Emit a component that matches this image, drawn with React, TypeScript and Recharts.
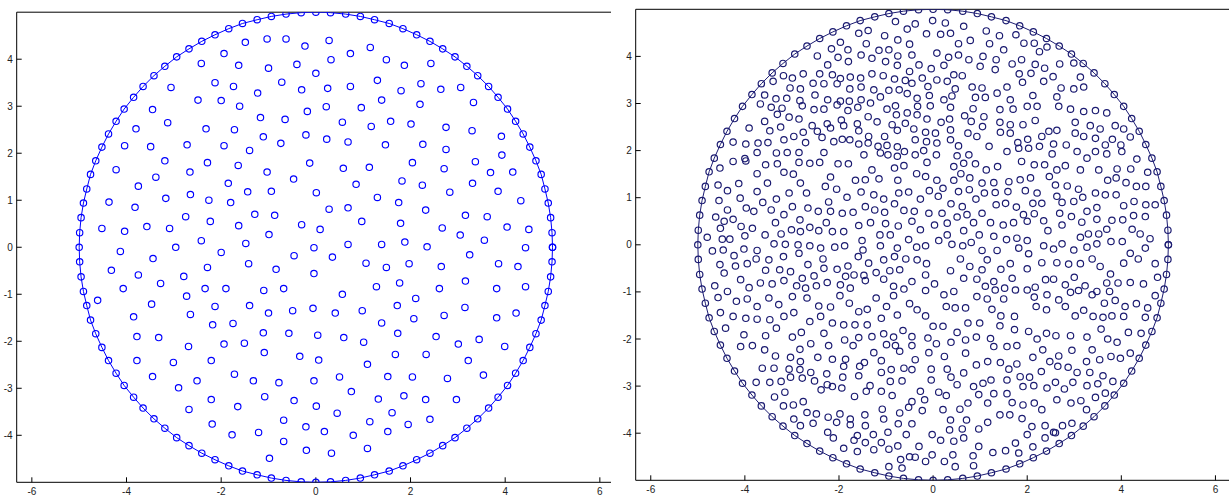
import React from "react";
import { ScatterChart, Scatter, XAxis, YAxis } from "recharts";

// Shared tick values
const xTicks = [-6, -4, -2, 0, 2, 4, 6];
const yTicks = [-4, -3, -2, -1, 0, 1, 2, 3, 4];

// Boundary nodes (100 nodes on the outer ring; last closes the ring)
const boundaryPts: number[][] = [
  [5,0],[4.99,0.31],[4.96,0.63],[4.91,0.94],[4.84,1.24],[4.76,1.55],[4.65,1.84],[4.52,2.13],[4.38,2.41],[4.22,2.68],[4.05,2.94],[3.85,3.19],[3.65,3.42],[3.42,3.65],[3.19,3.85],[2.94,4.05],[2.68,4.22],[2.41,4.38],[2.13,4.52],[1.84,4.65],[1.55,4.76],[1.24,4.84],[0.94,4.91],[0.63,4.96],[0.31,4.99],[0,5],
  [-0.31,4.99],[-0.63,4.96],[-0.94,4.91],[-1.24,4.84],[-1.55,4.76],[-1.84,4.65],[-2.13,4.52],[-2.41,4.38],[-2.68,4.22],[-2.94,4.05],[-3.19,3.85],[-3.42,3.65],[-3.65,3.42],[-3.85,3.19],[-4.05,2.94],[-4.22,2.68],[-4.38,2.41],[-4.52,2.13],[-4.65,1.84],[-4.76,1.55],[-4.84,1.24],[-4.91,0.94],[-4.96,0.63],[-4.99,0.31],[-5,0],
  [-4.99,-0.31],[-4.96,-0.63],[-4.91,-0.94],[-4.84,-1.24],[-4.76,-1.55],[-4.65,-1.84],[-4.52,-2.13],[-4.38,-2.41],[-4.22,-2.68],[-4.05,-2.94],[-3.85,-3.19],[-3.65,-3.42],[-3.42,-3.65],[-3.19,-3.85],[-2.94,-4.05],[-2.68,-4.22],[-2.41,-4.38],[-2.13,-4.52],[-1.84,-4.65],[-1.55,-4.76],[-1.24,-4.84],[-0.94,-4.91],[-0.63,-4.96],[-0.31,-4.99],[0,-5],
  [0.31,-4.99],[0.63,-4.96],[0.94,-4.91],[1.24,-4.84],[1.55,-4.76],[1.84,-4.65],[2.13,-4.52],[2.41,-4.38],[2.68,-4.22],[2.94,-4.05],[3.19,-3.85],[3.42,-3.65],[3.65,-3.42],[3.85,-3.19],[4.05,-2.94],[4.22,-2.68],[4.38,-2.41],[4.52,-2.13],[4.65,-1.84],[4.76,-1.55],[4.84,-1.24],[4.91,-0.94],[4.96,-0.63],[4.99,-0.31],[5,0]
];

// Left panel interior nodes
const leftInterior: number[][] = [
  [-1.49,4.36],[-1.03,4.43],[-0.63,4.43],[-1.94,4.12],[-2.42,3.91],[-1.63,3.87],[-1.00,3.81],[-0.40,3.89],[-2.13,3.50],[-1.74,3.42],[-0.72,3.51],[-3.06,3.40],[-1.23,3.28],[-2.49,3.13],[-2.00,3.12],[-1.61,3.00],[-3.45,2.93],[-1.17,2.76],[-0.65,2.72],[-3.80,2.52],[-3.13,2.65],[-2.32,2.52],[-1.72,2.50],[-1.11,2.35],[-0.74,2.21],[-4.04,2.16],[-3.49,2.14],[-2.72,2.18],[-1.94,2.16],[-1.40,2.06],
  [0.28,4.40],[-0.23,4.28],[1.15,4.25],[0.32,3.99],[0.73,4.12],[1.49,3.99],[1.87,3.87],[2.43,3.91],[0.00,3.70],[1.30,3.55],[0.25,3.38],[0.73,3.42],[1.80,3.33],[2.22,3.48],[2.64,3.36],[3.06,3.40],[-0.30,3.35],[0.22,2.99],[-0.18,2.89],[0.96,2.97],[1.39,3.13],[2.20,3.04],[3.33,3.08],[0.56,2.66],[1.17,2.57],[1.58,2.68],[2.01,2.62],[2.75,2.55],[3.30,2.48],[3.92,2.36],[-0.21,2.39],[0.23,2.30],[0.68,2.24],[1.47,2.18],[2.26,2.19],[2.75,2.08],[3.93,1.96],
  [-3.19,1.84],[-2.29,1.80],[-1.64,1.74],[-4.22,1.65],[-2.66,1.60],[-3.38,1.49],[-1.03,1.60],[-0.47,1.45],[-1.85,1.36],[-3.75,1.30],[-1.44,1.18],[-0.94,1.19],[-4.37,0.96],[-3.82,0.85],[-3.17,1.04],[-2.65,1.12],[-2.26,1.00],[-1.80,0.95],[-1.29,0.70],[-0.87,0.68],[-2.75,0.65],[-2.23,0.55],[-4.52,0.40],[-4.04,0.34],[-3.57,0.44],[-3.09,0.40],[-1.63,0.46],[-0.99,0.27],[-2.42,0.14],[-1.48,0.08],[-2.96,0.00],[-4.13,-0.09],[-2.00,-0.11],[-0.46,-0.18],[-3.44,-0.24],[-4.32,-0.49],[-3.75,-0.59],[-2.29,-0.43],[-1.42,-0.35],[-0.84,-0.47],[-2.79,-0.62],[-3.28,-0.77],[-4.07,-0.88],[-2.34,-0.88],[-1.90,-0.88],[-1.10,-0.92],[-0.68,-0.88],[-4.61,-1.13],[-3.47,-1.21],[-2.73,-1.04],[-2.13,-1.26],[-1.40,-1.24],[-1.00,-1.40],[-0.49,-1.35],[-3.85,-1.48],[-2.65,-1.43],
  [-0.13,1.79],[0.58,1.68],[1.13,1.70],[2.04,1.80],[2.71,1.67],[3.37,1.82],[3.69,1.59],[4.16,1.60],[0.85,1.34],[1.82,1.41],[2.25,1.32],[3.31,1.36],[2.83,1.17],[3.85,1.19],[0.01,1.16],[1.30,1.06],[1.75,0.95],[4.33,0.99],[0.28,0.81],[0.68,0.84],[2.32,0.79],[3.16,0.68],[3.62,0.65],[-0.30,0.48],[0.09,0.38],[0.97,0.55],[1.79,0.51],[2.67,0.41],[3.05,0.26],[4.04,0.43],[4.50,0.38],[3.56,0.15],[-0.04,-0.01],[0.68,0.06],[1.39,0.06],[1.88,0.11],[2.35,0.01],[3.25,-0.16],[4.43,-0.01],[0.35,-0.21],[1.06,-0.34],[1.49,-0.43],[1.97,-0.35],[2.65,-0.41],[3.86,-0.35],[4.27,-0.41],[-0.04,-0.56],[1.28,-0.84],[1.77,-0.76],[2.61,-0.88],[3.16,-0.72],[3.82,-0.88],[4.43,-0.84],[0.56,-1.00],[2.11,-1.09],[1.72,-1.24],[-0.06,-1.30],[0.41,-1.40],[0.98,-1.35],[3.15,-1.28],[2.71,-1.45],[3.82,-1.50],[4.23,-1.40],[2.07,-1.52],
  [-2.18,-1.65],[-1.75,-1.62],[-1.11,-1.82],[-0.57,-1.83],[-3.78,-1.90],[-3.32,-1.92],[-2.69,-2.11],[-1.94,-2.06],[-1.51,-2.04],[-1.09,-2.24],[-0.34,-2.32],[-3.78,-2.41],[-3.01,-2.45],[-2.21,-2.41],[-3.45,-2.75],[-2.51,-2.84],[-1.72,-2.70],[-1.32,-2.84],[-0.78,-2.88],[-2.90,-2.99],[-2.21,-3.24],[-1.08,-3.18],[-0.46,-3.26],[-2.68,-3.45],[-1.65,-3.39],[-0.68,-3.68],[-2.19,-3.76],[-1.77,-3.99],[-1.21,-3.94],[-0.68,-4.13],[-0.98,-4.49],
  [1.39,-1.61],[0.04,-1.87],[0.59,-1.92],[1.01,-2.02],[1.73,-1.83],[2.54,-1.90],[3.01,-2.06],[3.45,-1.96],[3.99,-2.11],[0.06,-2.40],[1.09,-2.49],[1.68,-2.28],[2.33,-2.28],[3.22,-2.41],[-0.04,-2.84],[0.50,-2.76],[1.52,-2.75],[2.04,-2.76],[2.78,-2.79],[3.54,-2.72],[0.75,-3.07],[1.32,-3.23],[1.86,-3.16],[2.32,-3.24],[2.97,-3.24],[0.01,-3.38],[0.45,-3.53],[1.61,-3.52],[1.14,-3.71],[1.95,-3.77],[2.41,-3.66],[-0.21,-3.82],[0.18,-3.92],[0.79,-4.00],[1.52,-3.92],[-0.20,-4.32],[0.33,-4.38],[1.09,-4.28]
];

// Right panel interior nodes
const rightInterior: number[][] = [
  // upper-left
  [-0.80,4.74],[-0.55,4.58],[-1.58,4.49],[-1.38,4.55],[-1.03,4.44],[-0.75,4.35],[-0.50,4.26],[-1.97,4.30],[-2.16,4.16],[-1.81,4.14],[-1.42,4.27],[-1.15,4.13],[-0.94,4.14],[-0.75,4.01],[-2.46,4.01],[-2.24,3.82],[-2.02,3.98],[-1.80,3.89],[-1.53,4.03],[-1.30,3.96],[-1.01,3.89],[-0.76,3.81],[-0.50,3.68],[-2.76,3.63],[-2.99,3.54],[-2.41,3.63],[-2.14,3.61],[-1.97,3.53],[-1.76,3.56],[-1.54,3.54],[-1.30,3.63],[-1.06,3.59],[-0.82,3.52],[-0.59,3.49],[-3.18,3.59],[-3.40,3.47],[-3.04,3.33],[-2.82,3.31],[-2.55,3.43],[-2.32,3.42],[-2.04,3.42],[-1.77,3.31],[-1.53,3.35],[-1.26,3.29],[-0.94,3.28],[-0.72,3.29],
  [-3.58,3.18],[-3.34,3.10],[-3.11,3.11],[-2.83,3.06],[-2.51,3.18],[-2.24,3.08],[-1.97,3.05],[-1.78,3.05],[-1.53,3.08],[-1.33,3.01],[-1.12,3.14],[-0.98,2.88],[-0.80,2.95],[-0.55,3.21],[-3.67,2.99],[-3.44,2.92],[-3.21,2.90],[-2.78,2.95],[-2.53,2.87],[-2.32,2.88],[-2.04,2.97],[-1.81,2.85],[-1.60,2.92],[-1.38,2.72],[-1.19,2.61],[-0.78,2.76],[-0.55,2.80],[-3.58,2.62],[-3.31,2.77],[-3.06,2.71],[-2.85,2.67],[-2.57,2.53],[-2.25,2.57],[-1.95,2.65],[-1.61,2.57],[-0.87,2.55],[-0.59,2.58],
  [-3.91,2.48],[-3.47,2.42],[-3.24,2.50],[-2.96,2.30],[-2.76,2.39],[-2.46,2.41],[-2.18,2.48],[-1.90,2.53],[-1.58,2.42],[-1.37,2.30],[-1.03,2.30],[-0.76,2.43],[-4.25,2.18],[-3.98,2.14],[-3.72,2.16],[-3.51,2.17],[-3.17,2.23],[-2.71,2.17],[-2.36,2.28],[-2.11,2.19],[-1.93,2.24],[-1.77,2.23],[-1.58,2.14],[-1.38,2.16],[-1.17,2.09],[-0.98,2.11],[-0.76,2.08],[-0.61,1.98],[-4.00,1.83],[-3.74,1.96],[-3.33,1.95],[-3.10,1.96],[-2.85,1.96],[-2.32,1.96],[-1.47,1.91],[-1.12,1.95],[-0.96,1.91],[-0.76,1.88],
  // upper-right
  [-0.38,4.69],[-0.01,4.76],[0.26,4.71],[0.65,4.64],[-0.14,4.48],[0.16,4.47],[0.37,4.49],[1.13,4.54],[1.41,4.44],[0.79,4.34],[0.54,4.27],[1.76,4.46],[1.93,4.28],[2.15,4.28],[2.26,4.10],[2.42,4.20],[1.20,4.27],[1.50,4.14],[0.08,4.07],[0.33,3.98],[0.54,4.03],[0.76,3.93],[1.06,4.00],[1.34,3.93],[1.68,3.84],[1.88,3.93],[2.17,3.83],[2.37,3.75],[2.69,3.84],[2.99,3.86],[-0.30,3.82],[-0.04,3.74],[0.23,3.81],[0.44,3.61],[0.62,3.59],[1.00,3.79],[1.32,3.72],[1.83,3.63],[2.08,3.64],[2.55,3.57],[3.13,3.56],[-0.23,3.54],[0.08,3.50],[0.30,3.47],[-0.11,3.36],[0.47,3.31],[0.83,3.35],[1.04,3.33],[1.36,3.22],[1.57,3.35],[1.90,3.45],[2.35,3.47],[2.72,3.33],[2.99,3.31],[3.20,3.35],
  [-0.34,3.11],[-0.08,3.17],[0.23,3.08],[0.40,3.16],[0.90,3.13],[1.11,3.13],[1.64,3.08],[2.12,3.17],[2.63,3.14],[-0.33,2.94],[-0.06,2.95],[0.37,2.92],[0.85,2.89],[0.67,2.74],[1.08,2.72],[1.42,2.87],[1.70,2.88],[2.00,2.94],[2.21,2.94],[2.67,2.94],[2.92,2.88],[3.20,2.83],[3.45,2.85],[3.69,2.80],[-0.34,2.76],[-0.13,2.67],[0.17,2.60],[0.35,2.67],[0.81,2.62],[1.05,2.51],[1.42,2.60],[1.64,2.55],[1.91,2.55],[2.17,2.64],[2.46,2.41],[2.63,2.43],[3.02,2.60],[3.34,2.53],[3.55,2.46],[3.87,2.53],[4.05,2.46],
  [-0.41,2.46],[-0.16,2.39],[0.05,2.37],[0.37,2.44],[0.74,2.37],[0.93,2.30],[1.43,2.39],[1.64,2.37],[1.80,2.17],[2.01,2.24],[2.26,2.09],[2.31,2.30],[2.56,2.14],[2.83,2.12],[3.02,2.37],[3.20,2.30],[3.45,2.26],[3.66,2.12],[3.81,2.24],[3.99,2.12],[4.19,2.29],[-0.38,2.23],[-0.14,2.19],[0.08,2.16],[0.37,2.23],[0.54,2.10],[1.19,2.09],[0.76,1.91],[-0.20,2.00],[0.07,1.91],[0.51,1.89],[1.57,1.98],[1.82,2.05],[2.03,2.05],[2.53,1.93],[3.06,1.98],[3.27,1.84],[3.45,1.98],[3.69,1.93],[4.01,1.98],[4.33,1.82],[-0.38,1.91],[-0.45,4.03],[-0.45,3.43],
  // middle-left
  [-4.53,1.63],[-4.25,1.77],[-3.98,1.78],[-3.74,1.51],[-3.56,1.70],[-3.31,1.72],[-3.17,1.54],[-2.97,1.50],[-2.85,1.75],[-2.62,1.73],[-2.41,1.75],[-2.18,1.44],[-2.02,1.72],[-1.80,1.72],[-1.65,1.37],[-1.44,1.38],[-1.30,1.59],[-1.15,1.40],[-0.82,1.63],[-0.75,1.37],[-0.62,1.68],
  [-4.57,1.27],[-4.37,1.15],[-4.13,1.30],[-3.74,1.13],[-3.52,1.31],[-3.33,0.97],[-3.06,1.10],[-2.82,1.31],[-2.69,1.10],[-2.29,1.24],[-2.05,1.18],[-1.83,1.01],[-1.53,1.12],[-1.26,1.06],[-1.05,0.97],[-0.73,1.10],[-0.52,1.12],
  [-4.55,0.94],[-4.37,0.74],[-4.10,0.99],[-3.97,0.78],[-3.81,0.71],[-3.62,0.90],[-3.44,0.74],[-3.17,0.64],[-2.99,0.81],[-2.66,0.78],[-2.44,0.71],[-2.22,0.91],[-2.18,0.71],[-1.93,0.67],[-1.70,0.69],[-1.44,0.81],[-1.24,0.74],[-1.03,0.69],[-0.82,0.87],[-0.62,0.73],
  [-4.62,0.59],[-4.44,0.50],[-4.25,0.54],[-4.08,0.39],[-3.84,0.35],[-3.57,0.21],[-3.35,0.47],[-2.83,0.53],[-3.23,0.23],[-3.01,0.32],[-2.82,0.28],[-2.62,0.37],[-2.43,0.30],[-2.27,0.47],[-2.14,0.28],[-1.90,0.28],[-1.58,0.41],[-1.33,0.47],[-1.13,0.21],[-1.01,0.45],[-0.74,0.40],[-0.91,0.21],
  [-4.80,0.16],[-4.52,0.35],[-4.48,0.12],[-4.32,0.12],[-4.00,0.19],[-3.38,0.02],[-3.14,0.01],[-2.87,0.00],[-2.62,-0.02],[-2.39,-0.07],[-2.09,-0.05],[-1.88,-0.02],[-1.51,0.09],[-1.49,-0.11],[-1.12,-0.02],[-0.76,-0.07],[-0.52,0.11],
  [-4.69,-0.13],[-4.46,-0.11],[-4.23,-0.23],[-4.02,-0.09],[-3.74,-0.12],[-3.49,-0.32],[-3.18,-0.25],[-2.85,-0.18],[-2.66,-0.42],[-2.34,-0.30],[-1.81,-0.45],[-1.59,-0.25],[-1.37,-0.39],[-1.05,-0.32],[-0.82,-0.25],[-0.58,-0.30],
  [-4.53,-0.42],[-4.44,-0.60],[-4.20,-0.45],[-3.95,-0.40],[-3.76,-0.30],[-3.56,-0.54],[-3.26,-0.53],[-3.03,-0.57],[-2.78,-0.71],[-2.53,-0.66],[-2.32,-0.50],[-2.04,-0.52],[-1.86,-0.67],[-1.68,-0.64],[-1.47,-0.65],[-1.21,-0.59],[-0.92,-0.55],[-0.71,-0.53],
  [-4.64,-0.87],[-4.09,-0.74],[-3.91,-0.91],[-3.67,-0.81],[-3.42,-0.83],[-3.17,-0.76],[-2.90,-0.87],[-2.71,-0.92],[-2.48,-0.87],[-2.25,-0.80],[-1.97,-0.85],[-1.76,-0.92],[-1.44,-0.76],[-1.05,-0.73],[-0.84,-0.88],[-0.62,-0.94],
  [-4.57,-1.12],[-4.37,-0.99],[-4.18,-1.20],[-3.95,-1.15],[-3.74,-1.31],[-3.49,-1.13],[-3.28,-1.27],[-2.99,-1.10],[-2.68,-1.13],[-2.43,-1.30],[-2.18,-1.32],[-1.98,-1.08],[-1.78,-1.24],[-1.58,-1.42],[-1.40,-1.37],[-1.21,-1.13],[-0.99,-1.31],[-0.84,-1.08],[-0.50,-1.25],
  [-4.52,-1.44],[-4.25,-1.52],[-3.98,-1.56],[-3.74,-1.58],[-3.17,-1.52],[-2.96,-1.44],[-2.39,-1.52],[-1.10,-1.56],[-0.76,-1.49],
  // middle-right
  [-0.13,1.75],[0.44,1.66],[0.65,1.73],[0.90,1.72],[1.13,1.59],[1.37,1.66],[1.88,1.77],[2.15,1.70],[2.37,1.70],[2.63,1.59],[2.81,1.68],[3.13,1.59],[3.52,1.59],[3.91,1.61],[4.20,1.61],[4.56,1.54],
  [-0.35,1.51],[-0.16,1.45],[0.08,1.37],[0.44,1.37],[0.59,1.51],[0.78,1.42],[1.04,1.31],[1.29,1.32],[1.61,1.34],[1.85,1.38],[2.07,1.42],[2.47,1.45],[2.60,1.27],[2.85,1.25],[3.09,1.18],[3.71,1.37],[3.89,1.42],[4.10,1.32],[4.32,1.24],[4.52,1.24],
  [-0.27,0.97],[-0.08,1.15],[0.11,1.03],[0.21,1.20],[0.54,1.13],[0.77,1.17],[0.91,0.97],[1.09,1.10],[1.32,1.11],[1.59,1.13],[1.96,1.15],[2.21,1.10],[2.63,1.03],[2.74,0.90],[2.99,0.92],[3.18,1.01],[3.45,1.10],[3.66,1.06],[3.89,1.06],[4.05,0.83],[4.27,0.92],[4.52,0.85],[4.72,0.85],
  [-0.40,0.71],[-0.09,0.67],[0.19,0.67],[0.38,0.87],[0.62,0.81],[0.72,0.64],[1.04,0.67],[1.34,0.85],[1.54,0.88],[1.77,0.80],[1.92,0.64],[2.12,0.88],[2.31,0.88],[2.15,0.66],[2.35,0.51],[2.69,0.67],[2.94,0.60],[3.16,0.48],[3.27,0.71],[3.48,0.79],[3.48,0.54],[3.80,0.52],[4.03,0.53],[4.26,0.62],[4.51,0.60],
  [-0.45,0.50],[-0.27,0.32],[0.03,0.42],[0.30,0.46],[0.51,0.59],[0.30,0.21],[0.65,0.30],[0.86,0.47],[0.98,0.21],[1.22,0.47],[1.29,0.18],[1.49,0.42],[1.71,0.47],[2.00,0.50],[2.44,0.30],[2.74,0.42],[3.13,0.16],[3.30,0.23],[3.52,0.23],[3.69,0.33],[4.23,0.33],[4.40,0.23],[4.61,0.13],
  [-0.35,-0.05],[-0.16,-0.02],[0.12,0.09],[0.40,0.01],[0.63,-0.02],[0.81,0.05],[1.04,-0.12],[1.36,-0.12],[1.56,0.11],[1.78,0.14],[2.00,0.09],[1.82,-0.07],[2.03,-0.19],[2.35,-0.02],[2.56,-0.09],[2.74,0.02],[2.99,-0.11],[3.27,-0.05],[3.48,0.02],[3.78,0.07],[4.02,0.07],[4.19,-0.18],[4.51,-0.07],
  [-0.34,-0.32],[-0.14,-0.40],[0.37,-0.55],[0.58,-0.30],[0.78,-0.46],[1.04,-0.53],[1.15,-0.32],[1.44,-0.52],[1.64,-0.40],[2.00,-0.51],[2.31,-0.38],[2.63,-0.38],[2.88,-0.41],[3.13,-0.40],[3.38,-0.30],[3.55,-0.46],[3.77,-0.62],[4.05,-0.39],[4.36,-0.30],[4.72,-0.40],
  [-0.45,-0.78],[-0.16,-0.64],[0.03,-0.83],[0.65,-0.71],[0.93,-0.73],[1.29,-0.78],[1.11,-0.88],[1.52,-0.92],[1.68,-0.71],[2.00,-0.96],[2.17,-0.90],[2.39,-0.74],[2.56,-0.73],[2.81,-0.85],[3.00,-0.69],[3.23,-0.87],[3.48,-0.99],[3.69,-0.81],[3.93,-0.81],[4.19,-0.80],[4.47,-0.83],[4.77,-0.69],
  [-0.16,-0.97],[0.23,-1.06],[0.44,-0.99],[0.93,-1.10],[1.15,-1.15],[1.32,-0.96],[1.50,-1.15],[1.75,-0.96],[2.15,-1.11],[2.42,-1.06],[2.67,-1.17],[2.92,-1.01],[3.09,-0.97],[3.38,-1.06],[3.64,-1.24],[3.75,-0.99],[3.87,-1.18],[4.08,-1.31],[4.32,-1.25],[4.72,-1.08],
  [-0.34,-1.38],[-0.16,-1.51],[0.28,-1.31],[0.47,-1.34],[0.69,-1.34],[1.25,-1.37],[1.44,-1.51],[1.73,-1.52],[2.19,-1.31],[2.41,-1.38],[2.81,-1.31],[3.02,-1.51],[3.20,-1.39],[3.40,-1.52],[3.61,-1.54],[3.80,-1.51],[4.05,-1.52],[4.56,-1.34],[4.51,-1.54],
  // lower-left
  [-3.47,-1.59],[-4.41,-1.77],[-4.02,-1.91],[-3.56,-1.93],[-3.33,-1.77],[-2.99,-1.96],[-2.80,-1.86],[-2.62,-1.63],[-2.32,-1.88],[-2.14,-1.66],[-1.90,-1.70],[-1.88,-2.02],[-1.66,-1.70],[-1.58,-1.97],[-1.40,-1.70],[-1.30,-1.95],[-1.05,-1.89],[-0.84,-1.96],[-0.64,-1.82],
  [-4.09,-2.16],[-3.84,-2.14],[-3.58,-2.23],[-3.35,-2.36],[-3.03,-2.39],[-2.83,-2.22],[-2.82,-2.48],[-2.60,-2.10],[-2.45,-2.39],[-2.22,-2.14],[-2.14,-2.43],[-1.86,-2.43],[-1.70,-2.14],[-1.46,-2.50],[-1.26,-2.29],[-1.10,-2.46],[-0.99,-2.12],[-0.80,-2.14],[-0.71,-2.26],
  [-3.63,-2.62],[-3.38,-2.62],[-3.06,-2.64],[-2.83,-2.65],[-2.60,-2.71],[-2.26,-2.74],[-1.90,-2.58],[-1.56,-2.58],[-1.10,-2.71],[-0.89,-2.65],[-0.62,-2.62],
  [-3.76,-2.92],[-3.47,-2.92],[-3.23,-2.90],[-3.03,-2.81],[-2.78,-2.83],[-2.52,-2.89],[-2.25,-2.97],[-1.92,-2.81],[-1.58,-2.78],[-1.34,-2.99],[-0.91,-2.90],[-0.66,-2.89],
  [-3.37,-3.23],[-3.15,-3.13],[-2.97,-3.40],[-2.76,-3.33],[-2.38,-3.08],[-2.14,-3.01],[-1.94,-3.04],[-1.67,-3.22],[-1.42,-3.11],[-1.10,-3.11],[-0.87,-3.20],
  [-3.18,-3.42],[-2.68,-3.56],[-2.96,-3.70],[-2.48,-3.59],[-2.23,-3.66],[-1.98,-3.59],[-1.76,-3.70],[-1.45,-3.61],[-1.08,-3.49],[-1.05,-3.70],[-0.71,-3.57],[-0.52,-3.45],
  [-2.82,-3.84],[-2.55,-3.79],[-2.24,-3.98],[-2.05,-3.77],[-1.76,-3.82],[-1.61,-4.05],[-1.44,-3.84],[-1.27,-4.03],[-0.96,-3.98],[-0.74,-3.80],[-0.57,-4.03],
  [-2.12,-4.10],[-1.90,-4.32],[-1.68,-4.15],[-1.61,-4.39],[-1.44,-4.20],[-1.26,-4.35],[-1.10,-4.20],[-0.94,-4.34],[-0.75,-4.27],[-0.69,-4.56],[-0.50,-4.50],[-0.94,-4.71],[-0.66,-4.74],
  // lower-right
  [0.00,-1.73],[0.21,-1.73],[0.51,-1.86],[0.74,-1.66],[0.99,-1.66],[1.42,-1.72],[1.73,-1.80],[2.03,-1.84],[2.21,-2.00],[2.41,-1.88],[2.61,-1.93],[2.92,-1.93],[3.27,-1.96],[3.57,-1.79],[3.71,-2.00],[3.91,-2.07],[4.15,-1.86],[4.42,-1.88],
  [-0.45,-1.95],[-0.45,-2.14],[-0.11,-1.98],[0.07,-2.10],[0.38,-2.07],[0.69,-2.02],[0.92,-1.96],[1.22,-1.99],[1.29,-2.16],[1.57,-2.16],[1.78,-2.14],[2.33,-2.23],[2.67,-2.36],[2.95,-2.24],[3.38,-2.23],[3.54,-2.44],[3.78,-2.37],[3.98,-2.41],[4.19,-2.30],
  [-0.38,-2.44],[-0.09,-2.29],[0.24,-2.37],[0.69,-2.30],[0.92,-2.55],[1.16,-2.48],[1.43,-2.50],[1.61,-2.64],[1.78,-2.53],[2.12,-2.39],[2.30,-2.69],[2.48,-2.48],[2.65,-2.58],[2.87,-2.60],[3.06,-2.71],[3.26,-2.48],[3.33,-2.71],[3.61,-2.78],[3.82,-2.90],
  [-0.45,-2.65],[-0.04,-2.64],[-0.04,-2.87],[0.30,-2.64],[0.38,-2.81],[0.65,-2.72],[0.86,-3.01],[1.06,-2.94],[1.23,-2.87],[1.57,-2.87],[1.85,-2.80],[2.05,-2.81],[1.91,-3.01],[2.14,-2.99],[2.42,-3.04],[2.60,-2.92],[2.79,-3.06],[2.97,-2.92],[3.27,-2.99],[3.50,-2.95],[3.66,-3.15],
  [-0.27,-3.11],[-0.45,-3.33],[-0.18,-3.29],[0.12,-3.13],[0.28,-3.20],[0.51,-2.97],[0.74,-3.36],[0.97,-3.18],[1.16,-3.36],[1.29,-3.16],[1.57,-3.16],[1.68,-3.35],[1.91,-3.40],[2.15,-3.36],[2.31,-3.50],[2.63,-3.29],[2.93,-3.36],[3.14,-3.31],[3.26,-3.50],[3.45,-3.24],
  [-0.45,-3.80],[-0.23,-3.52],[0.21,-3.50],[0.57,-3.49],[0.71,-3.72],[0.37,-3.72],[0.97,-3.91],[1.16,-3.77],[1.42,-3.61],[1.63,-3.61],[1.89,-3.69],[2.10,-3.86],[2.38,-3.84],[2.56,-3.98],[2.75,-3.84],[2.95,-3.79],
  [-0.02,-4.03],[0.16,-4.15],[0.35,-3.93],[0.62,-3.91],[0.44,-4.17],[0.65,-4.10],[0.97,-4.28],[1.27,-4.41],[1.54,-4.37],[1.75,-4.21],[1.82,-4.42],[2.00,-4.03],[2.12,-4.29],[2.38,-4.10],[2.60,-3.99],
  [-0.30,-4.28],[-0.38,-4.51],[-0.16,-4.60],[-0.02,-4.46],[0.24,-4.60],[0.42,-4.46],[0.47,-4.71],[0.85,-4.48],[0.86,-4.69]
];

const toObjs = (arr: number[][]) => arr.map(([x, y]) => ({ x, y }));

const ring = (color: string, sw: number) => (props: any) => (
  <circle cx={props.cx} cy={props.cy} r={3.2} fill="none" stroke={color} strokeWidth={sw} />
);

const FONT = "'Liberation Sans', Arial, Helvetica, sans-serif";

type PanelProps = {
  left: number;
  clipWidth: number;
  margin: { top: number; right: number; bottom: number; left: number };
  color: string;
  strokeW: number;
  interior: number[][];
};

function Panel({ left, clipWidth, margin, color, strokeW, interior }: PanelProps) {
  const shape = ring(color, strokeW);
  return (
    <div style={{ position: "absolute", left, top: 0, width: clipWidth, height: 497, overflow: "hidden", background: "#fff" }}>
      <ScatterChart width={640} height={497} margin={margin}>
        <XAxis
          type="number" dataKey="x" domain={[-6.32, 6.32]} ticks={xTicks} interval={0}
          allowDataOverflow height={1} tickSize={-5} tickMargin={11}
          axisLine={{ stroke: "#000" }} tickLine={{ stroke: "#000" }}
          tick={{ fill: "#222", fontSize: 10, fontFamily: FONT }}
        />
        <XAxis
          xAxisId="top" orientation="top" type="number" domain={[-6.32, 6.32]} ticks={xTicks} interval={0}
          allowDataOverflow height={1} tickSize={-5} tick={false}
          axisLine={{ stroke: "#000" }} tickLine={{ stroke: "#000" }}
        />
        <YAxis
          type="number" dataKey="y" domain={[-5, 5]} ticks={yTicks} interval={0}
          allowDataOverflow width={1} tickSize={-5} tickMargin={9}
          axisLine={{ stroke: "#000" }} tickLine={{ stroke: "#000" }}
          tick={{ fill: "#222", fontSize: 10, fontFamily: FONT }}
        />
        <YAxis
          yAxisId="right" orientation="right" type="number" domain={[-5, 5]} ticks={yTicks} interval={0}
          allowDataOverflow width={1} tickSize={-5} tick={false}
          axisLine={{ stroke: "#000" }} tickLine={{ stroke: "#000" }}
        />
        <Scatter
          data={toObjs(boundaryPts)} shape={shape} line={{ stroke: color, strokeWidth: 1 }}
          lineType="joint" isAnimationActive={false}
        />
        <Scatter data={toObjs(interior)} shape={shape} isAnimationActive={false} />
      </ScatterChart>
    </div>
  );
}

export default function App() {
  return (
    <div style={{ position: "absolute", left: 0, top: 0, width: 1229, height: 497, background: "#fff", overflow: "hidden" }}>
      <Panel
        left={0} clipWidth={611}
        margin={{ top: 11.2, right: 24, bottom: 13.7, left: 15.7 }}
        color="#0000ff" strokeW={1.15} interior={leftInterior}
      />
      <Panel
        left={612} clipWidth={617}
        margin={{ top: 8.3, right: 20.5, bottom: 15.7, left: 22.7 }}
        color="#1c1c72" strokeW={1.2} interior={rightInterior}
      />
    </div>
  );
}
